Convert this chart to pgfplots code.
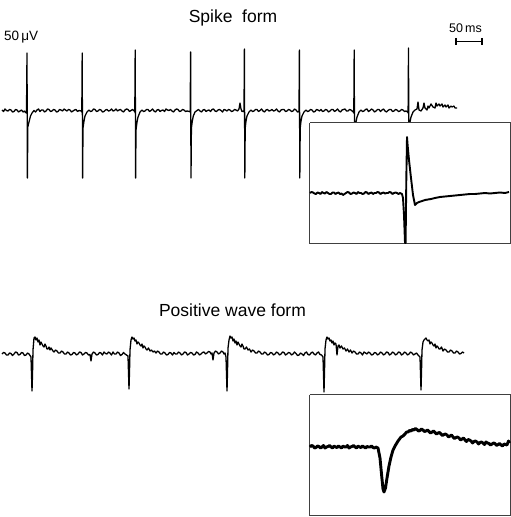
\documentclass[border=0pt]{standalone}
\usepackage{pgfplots}
\pgfplotsset{compat=1.18}
\usepackage{fontspec}
\setmainfont{Liberation Sans}
\begin{document}
\begin{tikzpicture}
\begin{axis}[width=511bp,height=517bp,scale only axis,hide axis,
  xmin=0,xmax=511,ymin=0,ymax=517,y dir=reverse,clip=false]
\path (rel axis cs:0,0) rectangle (rel axis cs:1,1);
% top trace: spike form
\addplot[black,line width=1.3bp,line join=round] coordinates {
(2,110)(3.5,111.5)(5,109)(6.5,110.5)(8,111)(9.5,109.5)(11,110)(12.5,112)(14,111.5)(15.5,109.5)(17,110)(18.5,112)(20,111)(21.5,110)(23,112)(24.5,111)(25.5,112.5)
(26.5,113)(27,53)(27.4,178)(27.8,127)(28.5,124)(29.5,120)(30.5,116)(32,113)(34,110.5)
(35.5,112)(37,110)(38.5,109)(40,111.5)(41.5,110)(43,110)(44.5,112)(46,111)(47.5,109)(49,109.5)(50.5,111.5)(52,111)(53.5,109.5)(55,110)(56.5,112)(58,111.5)(59.5,109.5)(61,110)(62.5,111)(64,109)(65.5,110)(67,111)(68.5,109.5)(70,110)(71.5,112)(73,111)(74.5,110)(76,109.5)(77.5,111.5)(79,110.5)(81.3,111)
(81.8,112)(82.2,53)(82.6,178)(83,128)(84,121)(85,116)(87,112)(89,110)
(90.5,111.5)(92,111)(93.5,109)(95,109.5)(96.5,111.5)(98,111)(99.5,109.5)(101,110)(102.5,112)(104,111.5)(105.5,110)(107,109.5)(108.5,111)(110,110.5)(111.5,109)(113,111)(114.5,110.5)(116,109)(117.5,111)(119,110)(120.5,109.5)(122,111)(123.5,112)(125,110)(126.5,109)(128,109.5)(129.5,111.5)(131,110.5)(132.5,109.5)(134.3,111)
(134.8,112)(135.2,50)(135.6,178)(136,130)(137,122)(138,117)(140,112)(142,110)
(143.5,111.5)(145,111)(146.5,109.5)(148,109.5)(149.5,111.5)(151,110.5)(152.5,109)(154,111)(155.5,112)(157,110)(158.5,109.5)(160,111.5)(161.5,110.5)(163,110)(164.5,111.5)(166,109)(167.5,110)(169,110.5)(170.5,109.5)(172,111)(173.5,112)(175,110)(176.5,109)(178,109.5)(179.5,111.5)(181,111)(182.5,109.5)(184,110)(185.5,111.5)(187,111)(189.5,111.5)
(190.2,112)(190.6,52)(191,178)(191.4,128)(192.3,121)(193.3,116)(195,112)(197,110.5)
(198.5,109.5)(200,111)(201.5,112)(203,110)(204.5,109.5)(206,111.5)(207.5,110.5)(209,110)(210.5,111.5)(212,109.5)(213.5,109)(215,111)(216.5,111.5)(218,110)(219.5,109.5)(221,110.5)(222.5,112)(224,109.5)(225.5,110)(227,111)(228.5,109.5)(230,110)(231.5,111.5)(233,111)(234.5,109.5)(236,110)(237.5,111)(239,109)(240,103)(241,109)(242,111.5)(243.5,111)
(244,112)(244.4,49)(244.8,178)(245.2,128)(246,121)(247,116)(249,112)(251,110)
(252.5,111.5)(254,111)(255.5,109.5)(257,109.5)(258.5,111.5)(260,110.5)(261.5,109)(263,111)(264.5,112)(266,110)(267.5,109.5)(269,111)(270.5,110.5)(272,109.5)(273.5,111)(275,110.5)(276.5,109)(278,111)(279.5,112)(281,110)(282.5,109.5)(284,109.5)(285.5,111.5)(287,111)(288.5,109.5)(290,110)(291.5,111.5)(293,111)(294.5,109)(296,110)(297.5,112)(298.5,111.5)
(299,112)(299.4,50)(299.8,178)(300.2,128)(301,121)(302,116)(304,112)(306,110)
(307.5,111.5)(309,111)(310.5,109.5)(312,110)(313.5,112)(315,111.5)(316.5,109.5)(318,110)(319.5,111)(321,109.5)(322.5,111.5)(324,111)(325.5,109.5)(327,110)(328.5,112)(330,111)(331.5,109.5)(333,109.5)(334.5,111.5)(336,110.5)(337.5,109)(339,111)(340.5,112)(342,110)(343.5,109.5)(345,109)(346.5,111)(348,111)(349.5,109.5)(351,110)(353.3,112)
(353.8,113)(354.2,50)(354.6,178)(355,126)(356,122)(357,117)(359,112)(361,110)
(362.5,111.5)(364,111)(365.5,109.5)(367,109)(368.5,111.5)(370,110.5)(371.5,109)(373,110)(374.5,112)(376,111)(377.5,109.5)(379,109.5)(380.5,111.5)(382,110)(383.5,109)(385,111)(386.5,112)(388,110.5)(389.5,109.5)(391,109.5)(392.5,111.5)(394,111)(395.5,109.5)(397,110)(398.5,111.5)(400,111)(401.5,109.5)(403,110)(404.5,111.5)(406,111)(407.6,112)
(408.1,113)(408.5,48)(408.9,178)(409.3,126)(410,122)(411,117)(413,112)(415,110)
(417,109)(418,102)(419,110)(421,111)(423,108)(424,103)(425,108)(427,110)(428,106)(429,108)(431,104)(433,107)(435,108)(436,103)(437,106)(439,104)(440,106)(442,104)(443,107)(445,105)(446,107)(448,105)(449,108)(451,106)(452,107)(454,106)(455,108)(457,108)
};
% inset box (spike form)
\addplot[draw=black!75,fill=white,line width=1bp] coordinates {
(309.5,122.5)(510,122.5)(510,243.5)(309.5,243.5)(309.5,122.5)};
\addplot[black,line width=1.9bp,line join=round] coordinates {
(310,193)(311.5,192)(313,192.5)(314.5,193.5)(316,194)(317.5,192.5)(319,193)(320.5,194)(322,192)(323.5,193)(325,193.5)(326.5,192)(328,193)(329.5,194)(331,194)(332.5,192.5)(334,192.5)(335.5,194)(337,193)(338.5,192.5)(340,194)(341.5,193.5)(343,195)(344.5,194)(346,193)(347.5,192)(349,192.5)(350.5,194)(352,193.5)(353.5,192.5)(355,193)(356.5,194)(358,192)(359.5,193)(361,193)(362.5,194)(364,193.5)(365.5,192)(367,192.5)(368.5,194)(370,193)(371.5,192.5)(373,194)(374.5,193)(376,193)(377.5,192)(379,192.5)(380.5,194)(382,193)(383.5,192.5)(385,193.5)(386.5,193)(388,193)(389.5,192)(391,192.5)(392.5,194)(394,193)(395.5,192.5)(397,193)(398.5,194)(400,193)(402,194)(403,198)(404,215)(405,243)(405.6,243)(406.3,180)(407,137)(407.6,145)(409,160)(411,178)(413,195)(415,205)(417,203)(419,202)(422,201)(425,200)(428,199.5)(431,199)(435,198)(440,197)(445,196.5)(450,196)(455,195.5)(460,195)(465,194.5)(470,194)(475,194)(480,193.5)(485,193)(490,193.5)(495,193)(500,192.5)(505,193)(509,192)
};
% bottom trace: positive wave form
\addplot[black,line width=1.3bp,line join=round] coordinates {
(2,354)(3.5,352.5)(5,353)(6.5,355)(8,355)(9.5,353)(11,353.5)(12.5,355.5)(14,354)(15.5,352)(17,352.5)(18.5,355)(20,354.5)(21.5,352.5)(23,353)(24.5,355.5)(26,355)(27.5,353)(29,354)(31,357)
(32,391)(32.5,375)(33,350)(34,338)(35,337)(36,340)(37,338)(38,342)(39,340)(40,345)(41,342)(42,344)(43,346)(44,347)(45,344)(46,346)(47,349)(48,349)(49,347)(50,350)(51,348)(52,349.5)(53,351)(54,352)(55.5,350)(57,351)(58.5,353)(60,353)(61.5,351)(63,352)(64.5,354)(66,354)(67.5,352)(69,353)(70.5,355)(72,354.5)(73.5,352.5)(75,353)(76.5,355)(78,354)(79.5,352)(81,352.5)(82.5,355)(84,354)(85.5,352.5)(87,353)(88.5,355)(90,354.5)(91,361)(92,354)(93.5,352)(95,353)(96.5,355)(98,354.5)(99.5,352.5)(101,353)(102.5,355)(104,352)(105.5,353.5)(107,354)(108.5,352)(110,353)(111.5,355)(113,352)(114.5,354)(116,354)(117.5,352)(119,353)(120.5,355.5)(122,354.5)(123.5,352.5)(125,354)(126.5,355)(128,356)
(129,389)(129.5,372)(130,350)(131,340)(132,337)(133,339)(134,338)(135,341)(136,340)(137,344)(138,342)(139,343)(140,345)(141,346)(142,344)(143,348)(144,346)(145,347)(146,349)(147,350)(148.5,348)(150,351)(151.5,350)(153,352)(154.5,351)(156,353)(157.5,351)(159,352)(160.5,354)(162,354)(163.5,352)(165,353)(166.5,355)(168,354.5)(169.5,352.5)(171,353)(172.5,355)(174,352.5)(175.5,354)(177,354)(178.5,352)(180,353)(181.5,355)(183,354)(184.5,352)(186,352.5)(187.5,355)(189,354)(190.5,352.5)(192,353)(193.5,355)(195,354.5)(196.5,352)(198,353)(199.5,355)(201,354)(202.5,352.5)(204,352)(205.5,354)(207,353)(208.5,351.5)(210,352)(211,354)(212,353)(213,360)(214,353)(215.5,351)(217,352)(218.5,354)(220,353)(221.5,351)(223,352)(224,354)(225,353)(226,357)
(227,391)(227.5,372)(228,348)(229,340)(230,336)(231,338)(232,337)(233,341)(234,339)(235,343)(236,341)(237,345)(238,342)(239,344)(240,346)(241,347)(242,344)(243,346)(244,349)(245,349)(246.5,347)(248,350)(249.5,349)(251,352)(252.5,350)(254,351)(255.5,353)(257,353)(258.5,351)(260,352)(261.5,354)(263,354)(264.5,352)(266,353)(267.5,355)(269,354.5)(270.5,352.5)(272,353)(273.5,355)(275,354)(276.5,352)(278,353)(279.5,355)(281,354)(282.5,352)(284,352.5)(285.5,355)(287,354)(288.5,352.5)(290,353)(291.5,355)(293,354)(294.5,352)(296,353.5)(297.5,355.5)(299,355)(300.5,353)(302,354)(303.5,355.5)(305,353)(306.5,352)(308,354.5)(309.5,355)(311,353)(312.5,352)(314,354)(315.5,355)(317,353)(318.5,352)(320,354.5)(321.5,355)(323,357)
(324,392)(324.5,372)(325,349)(326,340)(327,337)(328,339)(329,338)(330,341)(331,340)(332,343)(333,341)(334,345)(335,343)(336,344)(337,355)(338,346)(339,345)(340,348)(341.5,346)(343,349)(344.5,348)(346,351)(347.5,349)(349,352)(350.5,350)(352,353)(353.5,351)(355,352)(356.5,354)(358,354)(359.5,352)(361,353)(362.5,355)(364,352)(365.5,353)(367,354)(368.5,352)(370,353)(371.5,355)(373,354.5)(374.5,352.5)(376,353)(377.5,355)(379,354)(380.5,352)(382,353)(383.5,355)(385,354)(386.5,352)(388,352.5)(389.5,355)(391,354)(392.5,352)(394,353)(395.5,355)(397,354)(398.5,352)(400,352.5)(401.5,355)(403,354)(404.5,352)(406,353)(407.5,355)(409,354)(410.5,352)(412,353)(413.5,355)(415,354)(416.5,353)(418,355)(420,357)
(421,390)(421.5,372)(422,350)(423,342)(424,340)(425,339)(426,338)(427,340)(428,341)(429,340)(430,344)(431,342)(432,343)(433,345)(434,346)(435,344)(436,348)(437,346)(438,347)(439,349)(440,349)(441.5,347)(443,351)(444.5,349)(446,350)(447.5,352)(449,352)(450.5,350)(452,351)(453.5,353)(455,353)(456.5,351)(458,352)(459.5,354)(461,353.5)(462.5,352)(464,353)
};
% inset box (positive wave)
\addplot[draw=black!75,fill=white,line width=1bp] coordinates {
(309.5,394.5)(510,394.5)(510,515.5)(309.5,515.5)(309.5,394.5)};
\addplot[black,line width=2.9bp,line join=round] coordinates {
(310,447)(311.5,445.5)(313,446)(314.5,448)(316,447.5)(317.5,446)(319,446.5)(320.5,448)(322,447)(323.5,445.5)(325,448)(326.5,447)(328,446.5)(329.5,445.5)(331,447)(332.5,448)(334,446)(335.5,447)(337,447.5)(338.5,446)(340,447)(341.5,448)(343,446)(344.5,447)(346,447)(347.5,445.5)(349,448)(350.5,447)(352,446.5)(353.5,445.5)(355,447)(356.5,448)(358,446)(359.5,447)(361,447.5)(362.5,446)(364,447)(365.5,448)(367,446.5)(368.5,447)(370,447)(371.5,446)(373,447.5)(374.5,448)(376,447)(378,448)(380,458)(381.5,474)(383,489)(384,492)(385.5,488)(387,478)(389,466)(391,457)(393,450)(395,446)(398,441)(401,437)(403,436)(405,434)(406.5,432)(408,432)(409.5,430.5)(411,431)(412.5,429.5)(414,430)(415.5,428.5)(417,429.5)(418.5,431)(420,430.5)(421.5,429)(423,430)(424.5,431.5)(426,431)(427.5,430)(429,431.5)(430.5,433)(432,432)(433.5,431)(435,432.5)(436.5,434)(438,433)(439.5,432.5)(441,434)(442.5,435.5)(444,434.5)(445.5,434)(447,435)(448.5,437)(450,436)(451.5,435)(453,437)(454.5,438.5)(456,437.5)(457.5,437)(459,438)(460.5,440)(462,439)(463.5,438)(465,440)(466.5,441.5)(468,439.5)(469.5,440)(471,441)(472.5,443)(474,441.5)(475.5,441)(477,442)(478.5,444)(480,442.5)(481.5,442)(483,443)(484.5,444.5)(486,442)(487.5,443)(489,443.5)(490.5,445)(492,444)(493.5,443)(495,443.5)(496.5,445.5)(498,444.5)(499.5,443.5)(501,445)(502.5,446)(504,444)(505.5,444.5)(507,445)(508.5,441)(509.5,443)
};
% scale bar 50 ms
\addplot[black,line width=1.3bp] coordinates {(456,41.5)(482,41.5)};
\addplot[black,line width=1.3bp] coordinates {(456,38)(456,45)};
\addplot[black,line width=1.3bp] coordinates {(482,38)(482,45)};
% texts
\node[anchor=base,font=\fontsize{17.5bp}{20bp}\selectfont,inner sep=0pt] at (axis cs:233,22.5) {Spike\ \ form};
\node[anchor=base,font=\fontsize{17.5bp}{20bp}\selectfont,inner sep=0pt] at (axis cs:232.5,316) {Positive wave form};
\node[anchor=base west,font=\fontsize{13.5bp}{15bp}\selectfont,inner sep=0pt] at (axis cs:4,40.5) {50\,μV};
\node[anchor=base west,font=\fontsize{12.5bp}{14bp}\selectfont,inner sep=0pt] at (axis cs:449,32.3) {50\,ms};
\end{axis}
\end{tikzpicture}
\end{document}
